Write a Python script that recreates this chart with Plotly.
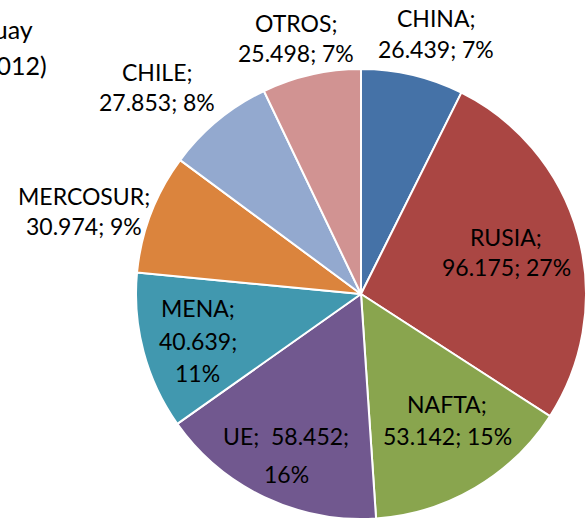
import plotly.graph_objects as go

# destinos y valores (miles, 2012)
destinos = ["CHINA", "RUSIA", "NAFTA", "UE", "MENA", "MERCOSUR", "CHILE", "OTROS"]
valores = [26.439, 96.175, 53.142, 58.452, 40.639, 30.974, 27.853, 25.498]
colores = ["#4572A7", "#AA4643", "#89A54E", "#71588F", "#4198AF", "#DB843D", "#93A9CF", "#D19392"]

total = sum(valores)

def etiqueta(nombre, v):
    pct = round(v / total * 100)
    num = f"{v:.3f}"
    if nombre == "UE":
        return [f"{nombre};\u00a0\u00a0{num};", f"{pct}%"]
    if nombre == "MENA":
        return [f"{nombre};", f"{num};", f"{pct}%"]
    return [f"{nombre};", f"{num};\u00a0{pct}%"]

W, H = 586, 521
fuente = dict(family="Lato", size=23, color="black")

fig = go.Figure()
fig.add_trace(go.Pie(
    labels=destinos,
    values=valores,
    textinfo="none",
    sort=False,
    direction="clockwise",
    rotation=0,
    marker=dict(colors=colores, line=dict(color="white", width=2)),
    domain=dict(x=[136 / W, 1.0], y=[2 / H, 452 / H]),
    showlegend=False,
    hoverinfo="label+value+percent",
))

# ubicacion de cada renglon de las etiquetas: x centro, y de cada renglon (pixeles)
ubic = {
    "CHINA": (436, [18, 49]),
    "RUSIA": (506, [237, 267]),
    "NAFTA": (447, [404, 436]),
    "UE": (286, [436, 474]),
    "MENA": (198, [308, 341, 373]),
    "MERCOSUR": (84, [196, 226]),
    "CHILE": (157, [72, 102]),
    "OTROS": (296, [23, 53]),
}
for d, v in zip(destinos, valores):
    px, ys = ubic[d]
    for linea, py in zip(etiqueta(d, v), ys):
        fig.add_annotation(text=linea, x=px / W, y=1 - py / H, xref="paper", yref="paper",
                           xanchor="center", yanchor="middle", showarrow=False, font=fuente)

# titulo (recortado a la izquierda en la imagen original)
fuente_tit = dict(family="Lato", size=25, color="black")
fig.add_annotation(text="Exportaciones de Uruguay", x=35 / W, y=1 - 29 / H,
                   xref="paper", yref="paper", xanchor="right", yanchor="middle",
                   showarrow=False, font=fuente_tit)
fig.add_annotation(text="(toneladas, 2012)", x=49 / W, y=1 - 65 / H,
                   xref="paper", yref="paper", xanchor="right", yanchor="middle",
                   showarrow=False, font=fuente_tit)

fig.update_layout(
    width=W, height=H,
    margin=dict(l=0, r=0, t=0, b=0),
    paper_bgcolor="white",
    plot_bgcolor="white",
)

fig.write_html("out.html", config={"displayModeBar": False},
               post_script="document.body.style.margin='0';")
